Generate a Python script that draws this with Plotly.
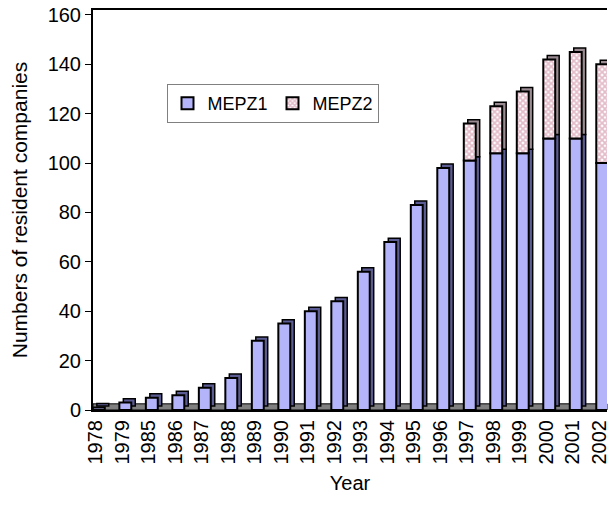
import plotly.graph_objects as go

years = ["1978", "1979", "1985", "1986", "1987", "1988", "1989", "1990", "1991", "1992",
         "1993", "1994", "1995", "1996", "1997", "1998", "1999", "2000", "2001", "2002"]
mepz1 = [1, 3, 5, 6, 9, 13, 28, 35, 40, 44, 56, 68, 83, 98, 101, 104, 104, 110, 110, 100]
mepz2 = [0, 0, 0, 0, 0, 0, 0, 0, 0, 0, 0, 0, 0, 0, 15, 19, 25, 32, 35, 40]
y_ticks = [0, 20, 40, 60, 80, 100, 120, 140, 160]

FONT = "Liberation Sans, Arial, sans-serif"
W = 0.45          # front face width (category units)
OFF = -0.115      # front face offset
DX = 0.15         # depth shift in x (category units)
DY = 1.6          # depth shift in y (value units)

m2 = [v if v > 0 else None for v in mepz2]
m2_base = [a for a in mepz1]

fig = go.Figure()
# depth (3D side/top) faces
fig.add_trace(go.Bar(x=years, y=mepz1, base=[DY] * len(years), width=W, offset=OFF + DX,
                     marker=dict(color="#5c5c94", line=dict(color="black", width=1.5)),
                     showlegend=False, hoverinfo="skip"))
fig.add_trace(go.Bar(x=years, y=m2, base=[b + DY for b in m2_base], width=W, offset=OFF + DX,
                     marker=dict(color="#9a8a92", line=dict(color="black", width=1.5)),
                     showlegend=False, hoverinfo="skip"))
# front faces
fig.add_trace(go.Bar(x=years, y=mepz1, base=[0] * len(years), width=W, offset=OFF, name="MEPZ1",
                     marker=dict(color="#b4b4fa", line=dict(color="black", width=2))))
fig.add_trace(go.Bar(x=years, y=m2, base=m2_base, width=W, offset=OFF, name="MEPZ2",
                     marker=dict(color="white", line=dict(color="black", width=2),
                                 pattern=dict(shape="x", fgcolor="#c87a96", bgcolor="white",
                                              size=4, solidity=0.7))))

fig.update_layout(
    width=610, height=505,
    margin=dict(l=93, r=0, t=10, b=95),
    barmode="overlay",
    paper_bgcolor="white", plot_bgcolor="white",
    font=dict(family=FONT, size=20, color="black"),
    legend=dict(orientation="h", x=0.143, y=0.815, xanchor="left", yanchor="top",
                bgcolor="white", bordercolor="#808080", borderwidth=1,
                font=dict(size=18), traceorder="normal", itemwidth=30, entrywidth=60),
    shapes=[dict(type="rect", xref="paper", yref="y", x0=0, x1=1, y0=0, y1=2.5,
                 fillcolor="#808080", line=dict(color="black", width=1), layer="below")],
)
fig.update_xaxes(type="category", range=[-0.11, 19.29], tickangle=-90,
                 showline=True, mirror=True, linecolor="black", linewidth=2,
                 ticks="", showgrid=False, tickfont=dict(size=20),
                 title=dict(text="Year", font=dict(size=20), standoff=12))
fig.update_yaxes(range=[0, 162], tickvals=y_ticks, showline=True, linecolor="black",
                 linewidth=2, ticks="outside", ticklen=6, tickcolor="black",
                 showgrid=False, zeroline=False, tickfont=dict(size=20),
                 title=dict(text="Numbers of resident companies", font=dict(size=21), standoff=14))

fig.write_html("out.html")
